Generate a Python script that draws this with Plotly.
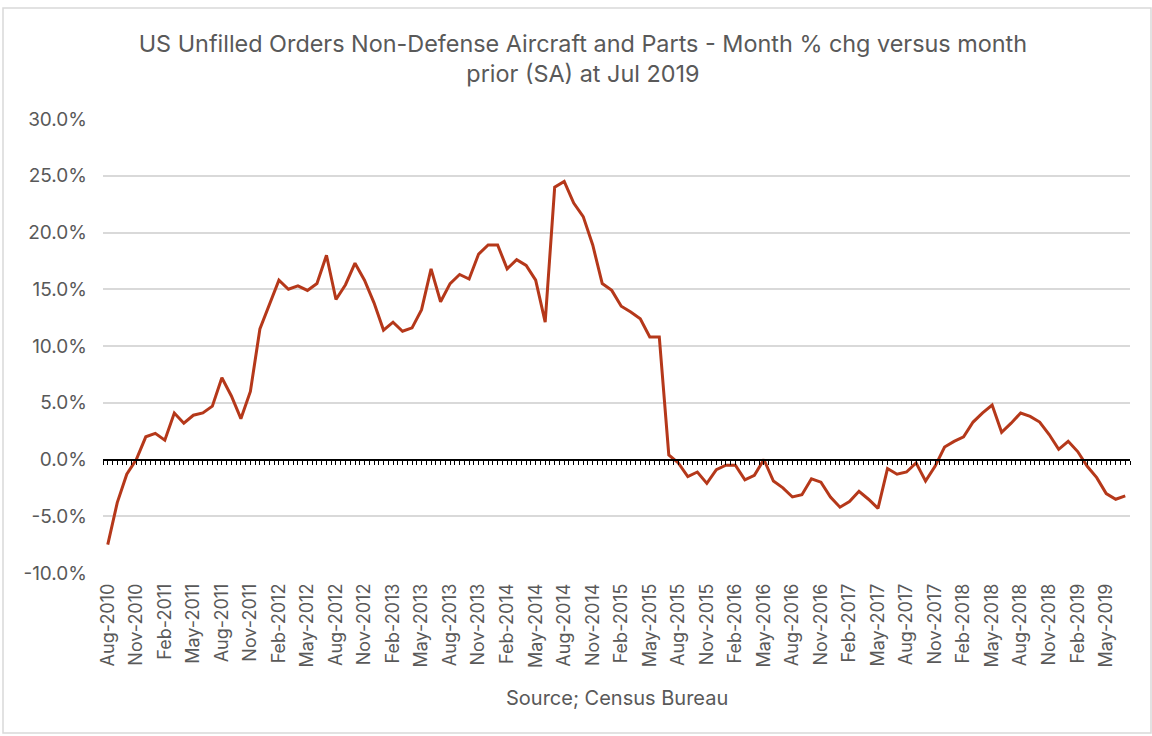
import pandas as pd
import plotly.graph_objects as go

# Monthly % change, Aug-2010 .. Jul-2019
months = pd.date_range("2010-08-01", periods=108, freq="MS").strftime("%b-%Y").tolist()
pct_chg = [
    -7.5, -3.8, -1.3, 0.0, 2.0, 2.3, 1.7, 4.1, 3.2, 3.9, 4.1, 4.7,
    7.2, 5.6, 3.6, 6.0, 11.5, 13.6, 15.8, 15.0, 15.3, 14.9, 15.5, 18.0,
    14.1, 15.4, 17.3, 15.8, 13.8, 11.4, 12.1, 11.3, 11.6, 13.2, 16.8, 13.9,
    15.5, 16.3, 15.9, 18.1, 18.9, 18.9, 16.8, 17.6, 17.1, 15.8, 12.1, 24.0,
    24.5, 22.6, 21.4, 18.9, 15.5, 14.9, 13.5, 13.0, 12.4, 10.8, 10.8, 0.4,
    -0.3, -1.5, -1.1, -2.1, -0.9, -0.5, -0.5, -1.8, -1.4, 0.0, -1.9, -2.5,
    -3.3, -3.1, -1.7, -2.0, -3.3, -4.2, -3.7, -2.8, -3.5, -4.3, -0.8, -1.3,
    -1.1, -0.3, -1.9, -0.6, 1.1, 1.6, 2.0, 3.3, 4.1, 4.8, 2.4, 3.2,
    4.1, 3.8, 3.3, 2.2, 0.9, 1.6, 0.7, -0.6, -1.6, -3.0, -3.5, -3.2,
]

tick_step = 3
x_tickvals = list(range(0, len(months), tick_step))
x_ticktext = [months[i] for i in x_tickvals]

y_tickvals = [-10, -5, 0, 5, 10, 15, 20, 25, 30]
y_ticktext = ["-10.0%", "-5.0%", "0.0%", "5.0%", "10.0%", "15.0%", "20.0%", "25.0%", "30.0%"]

FONT = "Inter, Liberation Sans, Arial, sans-serif"
GREY = "#595959"
LINE = "#B5381A"

idx = list(range(len(months)))
x_range = [-0.5, len(months) - 0.5]

fig = go.Figure()
fig.add_trace(go.Scatter(
    x=idx, y=pct_chg, mode="lines",
    line=dict(color=LINE, width=3),
    hoverinfo="skip", showlegend=False,
))
# invisible trace so the zero-line axis is drawn
fig.add_trace(go.Scatter(
    x=[idx[0]], y=[None], xaxis="x2", mode="lines",
    showlegend=False, hoverinfo="skip",
))

fig.update_layout(
    width=1152, height=736,
    margin=dict(l=103, r=22, t=119, b=163),
    paper_bgcolor="white", plot_bgcolor="white",
    font=dict(family=FONT, color=GREY, size=18),
    title=dict(
        text="US Unfilled Orders Non-Defense Aircraft and Parts - Month % chg versus month<br>prior (SA) at Jul 2019",
        x=0.506, xanchor="center", xref="container",
        y=1 - 52 / 736, yanchor="top", yref="container",
        font=dict(family=FONT, size=23.4, color=GREY),
    ),
    xaxis=dict(
        range=x_range, tickmode="array", tickvals=x_tickvals, ticktext=x_ticktext,
        tickangle=-90, showgrid=False, zeroline=False, showline=False, ticks="",
        ticklabelstandoff=6,
        tickfont=dict(size=18, color=GREY),
    ),
    xaxis2=dict(
        overlaying="x", anchor="free", position=0.25, range=x_range,
        showticklabels=False, showgrid=False, zeroline=False,
        showline=True, linecolor="black", linewidth=2,
        ticks="outside", ticklen=4, tickwidth=1, tickcolor="black",
        tick0=-0.5, dtick=0.5,
    ),
    yaxis=dict(
        range=[-10, 30], tickmode="array", tickvals=y_tickvals, ticktext=y_ticktext,
        showgrid=True, gridcolor="#D9D9D9", gridwidth=1.5,
        zeroline=False, showline=False, ticks="", ticklabelstandoff=15,
        tickfont=dict(size=19, color=GREY),
    ),
    annotations=[dict(
        text="Source; Census Bureau", xref="paper", yref="paper",
        x=0.5, y=-0.275, xanchor="center", yanchor="middle",
        showarrow=False, font=dict(family=FONT, size=20, color=GREY),
    )],
    shapes=[dict(
        type="rect", xref="paper", yref="paper",
        x0=(3 - 103) / 1027, x1=(1151 - 103) / 1027,
        y0=(573 - 733) / 454, y1=(573 - 8) / 454,
        line=dict(color="#D9D9D9", width=1.5), layer="below",
    )],
)

fig.write_html("out.html")
